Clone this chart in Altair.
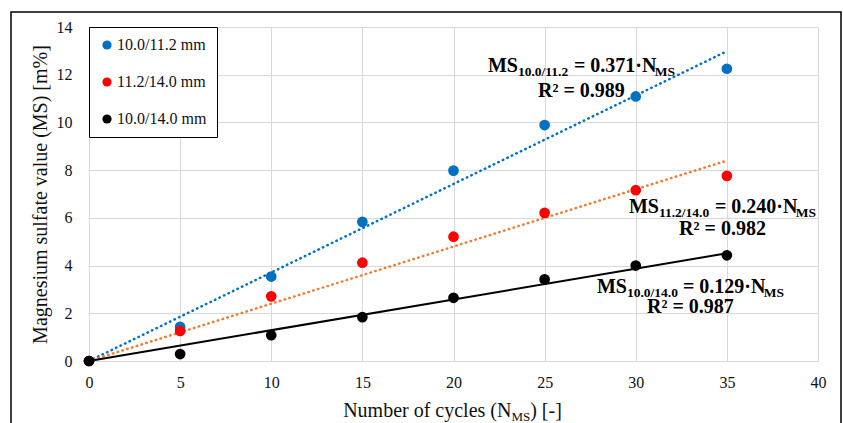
import altair as alt
import pandas as pd

# ---------------- data ----------------
cycles = [0, 5, 10, 15, 20, 25, 30, 35]
series_names = ["10.0/11.2 mm", "11.2/14.0 mm", "10.0/14.0 mm"]
ms_10_112 = [0, 1.43, 3.54, 5.83, 7.98, 9.89, 11.09, 12.25]
ms_112_14 = [0, 1.26, 2.71, 4.12, 5.21, 6.21, 7.16, 7.76]
ms_10_14 = [0, 0.29, 1.08, 1.84, 2.65, 3.42, 4.00, 4.43]
colors = ["#0070C0", "#FF0000", "#000000"]

trend_slopes = [0.371, 0.240, 0.129]
trend_x = [0, 35]
trend_colors = ["#0070C0", "#ED7D31", "#000000"]
trend_dotted = [True, True, False]

eq_subs = ["10.0/11.2", "11.2/14.0", "10.0/14.0"]
eq_vals = ["0.371", "0.240", "0.129"]
r2_vals = ["0.989", "0.982", "0.987"]
eq_x = [27.02, 34.76, 33.0]
eq_y = [12.11, 6.19, 2.86]
r2_y = [11.07, 5.28, 2.0]

x_ticks = [0, 5, 10, 15, 20, 25, 30, 35, 40]
y_ticks = [0, 2, 4, 6, 8, 10, 12, 14]

FONT = "Liberation Serif"
W, H = 729, 334

rows = []
for name, vals in zip(series_names, [ms_10_112, ms_112_14, ms_10_14]):
    for c, v in zip(cycles, vals):
        rows.append({"cycles": c, "ms": v, "series": name})
pts = pd.DataFrame(rows)

xs = alt.Scale(domain=[0, 40], nice=False)
ys = alt.Scale(domain=[0, 14], nice=False)

# Times metrics (per 1000 em)
TB = {'M': 944, 'S': 556, '.': 250, '/': 278, ' ': 250, '=': 570, '·': 250, 'N': 722, 'R': 722, '²': 300}
TR = {'N': 722, 'u': 500, 'm': 778, 'b': 500, 'e': 444, 'r': 333, ' ': 250, 'o': 500, 'f': 333,
      'c': 444, 'y': 500, 'l': 278, 's': 389, '(': 333, ')': 333, '[': 333, '-': 333, ']': 333,
      'M': 889, 'S': 556}


def tw(s, size, table):
    return sum(table.get(ch, 500) for ch in s) * size / 1000.0


BIG, SMALL = 20, 13.5

xaxis = alt.Axis(values=x_ticks, title=None, grid=True, ticks=False, labelPadding=13,
                 labelFlush=False, domainColor="#D9D9D9", gridColor="#D9D9D9",
                 labelFont=FONT, labelFontSize=16, labelColor="#111111")
yaxis = alt.Axis(values=y_ticks, title="Magnesium sulfate value (MS) [m%]", grid=True,
                 ticks=False, domain=False, labelPadding=17, labelFlush=False,
                 titlePadding=6, titleFontSize=20,
                 titleFont=FONT, titleFontWeight="normal", titleColor="#111111",
                 gridColor="#D9D9D9", labelFont=FONT, labelFontSize=16, labelColor="#111111")


def X():
    return alt.X("cycles:Q", scale=xs)


def Y():
    return alt.Y("ms:Q", scale=ys)


layers = []
layers.append(alt.Chart(pts).mark_point(opacity=0).encode(
    x=alt.X("cycles:Q", scale=xs, axis=xaxis),
    y=alt.Y("ms:Q", scale=ys, axis=yaxis)))

# trend lines
for slope, col, dotted in zip(trend_slopes, trend_colors, trend_dotted):
    tdf = pd.DataFrame({"cycles": trend_x, "ms": [slope * t for t in trend_x]})
    if dotted:
        mk = alt.Chart(tdf).mark_line(color=col, strokeWidth=2.5, strokeDash=[0.5, 4.5],
                                      strokeCap="round")
    else:
        mk = alt.Chart(tdf).mark_line(color=col, strokeWidth=2)
    layers.append(mk.encode(x=X(), y=Y()))

points = alt.Chart(pts).mark_point(filled=True, opacity=1, size=115, shape="circle").encode(
    x=X(), y=Y(),
    color=alt.Color("series:N", sort=series_names,
                    scale=alt.Scale(domain=series_names, range=colors),
                    legend=alt.Legend(title=None, orient="top-left", offset=0, padding=10,
                                      strokeColor="#000000", fillColor="#FFFFFF",
                                      labelFont=FONT, labelFontSize=16, labelColor="#111111",
                                      symbolType="circle", symbolSize=85, symbolStrokeWidth=0,
                                      rowPadding=21, labelOffset=2)),
)
layers.append(points)

# equations (multi-piece text with subscripts)
for sub, val, r2, ex, ey, ry in zip(eq_subs, eq_vals, r2_vals, eq_x, eq_y, r2_y):
    pieces = [("MS", BIG, 0, 0), (sub, SMALL, 4, 0), ("= " + val + "·N", BIG, 0, tw(" ", BIG, TB)),
              ("MS", SMALL, 4, 0)]
    total = 0
    for t, s, d, pre in pieces:
        total += pre + tw(t, s, TB)
    cur = -total / 2
    adf = pd.DataFrame({"cycles": [ex], "ms": [ey]})
    for t, s, d, pre in pieces:
        cur += pre
        layers.append(
            alt.Chart(adf).mark_text(text=t, font=FONT, fontWeight="bold", fontSize=s,
                                     align="left", baseline="alphabetic", dx=cur, dy=d,
                                     color="#000000")
            .encode(x=X(), y=Y())
        )
        cur += tw(t, s, TB)
    rdf = pd.DataFrame({"cycles": [ex], "ms": [ry]})
    layers.append(
        alt.Chart(rdf).mark_text(text="R² = " + r2, font=FONT, fontWeight="bold", fontSize=BIG,
                                 align="center", baseline="alphabetic", color="#000000")
        .encode(x=X(), y=Y())
    )

# x-axis title with subscript
xt_pieces = [("Number of cycles (N", 20, 0), ("MS", 13, 4), (") [-]", 20, 0)]
xt_total = sum(tw(t, s, TR) for t, s, d in xt_pieces)
cur = W / 2 - xt_total / 2 - 1
for t, s, d in xt_pieces:
    layers.append(
        alt.Chart(pts.head(1)).mark_text(text=t, font=FONT, fontSize=s, align="left",
                                         baseline="alphabetic", color="#111111")
        .encode(x=alt.value(cur), y=alt.value(390 + d))
    )
    cur += tw(t, s, TR)

# outer frame
frame = alt.Chart(pts.head(1)).mark_rect(filled=False, stroke="#000000", strokeWidth=1.5).encode(
    x=alt.value(-78), x2=alt.value(752), y=alt.value(-15), y2=alt.value(405))
layers.append(frame)

chart = alt.layer(*layers).properties(
    width=W, height=H,
    autosize=alt.AutoSizeParams(type="none"),
    padding={"left": 89, "top": 27, "right": 25, "bottom": 62},
    background="#FFFFFF",
).configure_view(stroke=None)

chart.save("out.html", embed_options={"renderer": "svg", "actions": False})
